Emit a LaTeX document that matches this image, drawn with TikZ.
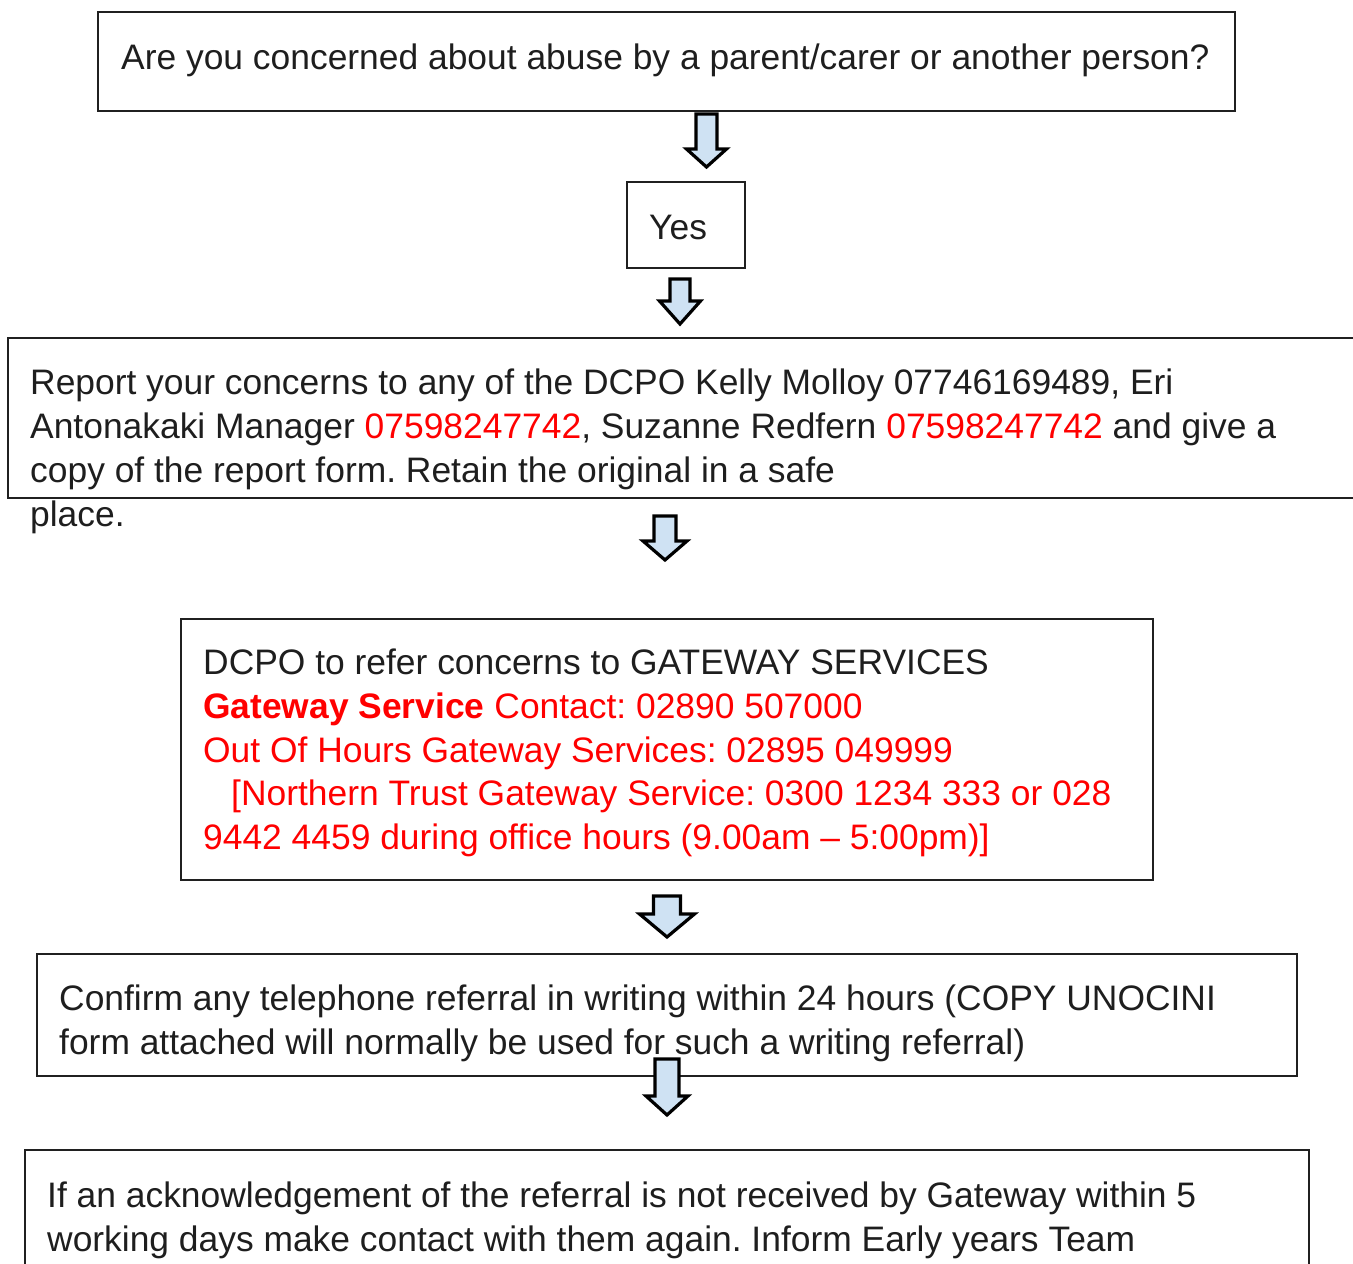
\documentclass[tikz,border=0pt]{standalone}
\usepackage{fontspec}
\setmainfont{Liberation Sans}
\definecolor{txt}{HTML}{1E1E1E}
\definecolor{rd}{HTML}{FF0000}
\definecolor{arrowfill}{HTML}{CFE2F3}
\definecolor{boxline}{HTML}{202020}
\frenchspacing
\begin{document}
\begin{tikzpicture}[x=1pt,y=-1pt,
  boxframe/.style={draw=boxline,line width=1.6pt},
  ln/.style={anchor=base west,inner sep=0pt,text=txt,font=\frenchspacing\fontsize{35.4}{44}\selectfont},
  blockarrow/.style={draw=black,fill=arrowfill,line width=3.2pt,line join=miter}]
\useasboundingbox (0,0) rectangle (1353,1264);
\newcommand{\barrow}[6]{%
  \draw[blockarrow] (#1-#5,#2) -- (#1+#5,#2) -- (#1+#5,#3) -- (#1+#6,#3) -- (#1,#4) -- (#1-#6,#3) -- (#1-#5,#3) -- cycle;}
% box 1
\draw[boxframe] (98,12) rectangle (1235,111);
\node[ln] (t1) at (121,69) {Are you concerned about abuse by a parent/carer or another person?};
\barrow{706.5}{114}{149}{167}{10.5}{20}
% yes
\draw[boxframe] (627,182) rectangle (745,268);
\node[ln] (yes) at (649,239) {Yes};
\barrow{680}{279}{301}{324}{10}{20.5}
% box 3
\draw[boxframe] (1360,338) -- (8,338) -- (8,498) -- (1360,498);
\node[ln] (r1) at (30,394) {Report your concerns to any of the DCPO Kelly Molloy 07746169489, Eri};
\node[ln] (r2) at (30,438) {Antonakaki Manager \textcolor{rd}{07598247742}, Suzanne Redfern \textcolor{rd}{07598247742} and give a};
\node[ln] (r3) at (30,482) {copy of the report form. Retain the original in a safe};
\node[ln] (r4) at (30,526) {place.};
\barrow{665}{516}{541}{560}{11}{22}
% box 4
\draw[boxframe] (181,619) rectangle (1153,880);
\node[ln] (g1) at (203,674) {DCPO to refer concerns to GATEWAY SERVICES};
\node[ln,text=rd] (g2) at (203,718) {\textbf{Gateway Service} Contact: 02890 507000};
\node[ln,text=rd] (g3) at (203,762) {Out Of Hours Gateway Services: 02895 049999};
\node[ln,text=rd] (g4) at (231,805) {[Northern Trust Gateway Service: 0300 1234 333 or 028};
\node[ln,text=rd] (g5) at (203,849) {9442 4459 during office hours (9.00am \textendash{} 5:00pm)]};
\barrow{667}{896}{914}{937}{13.5}{27.5}
% box 5
\draw[boxframe] (37,954) rectangle (1297,1076);
\node[ln] (c1) at (59,1010) {Confirm any telephone referral in writing within 24 hours (COPY UNOCINI};
\node[ln] (c2) at (59,1054) {form attached will normally be used for such a writing referral)};
\barrow{667}{1059}{1096}{1115}{12}{21}
% box 6
\draw[boxframe] (25,1270) -- (25,1150) -- (1309,1150) -- (1309,1270);
\node[ln] (a1) at (47,1207) {If an acknowledgement of the referral is not received by Gateway within 5};
\node[ln] (a2) at (47,1251) {working days make contact with them again. Inform Early years Team};
\end{tikzpicture}
\end{document}
